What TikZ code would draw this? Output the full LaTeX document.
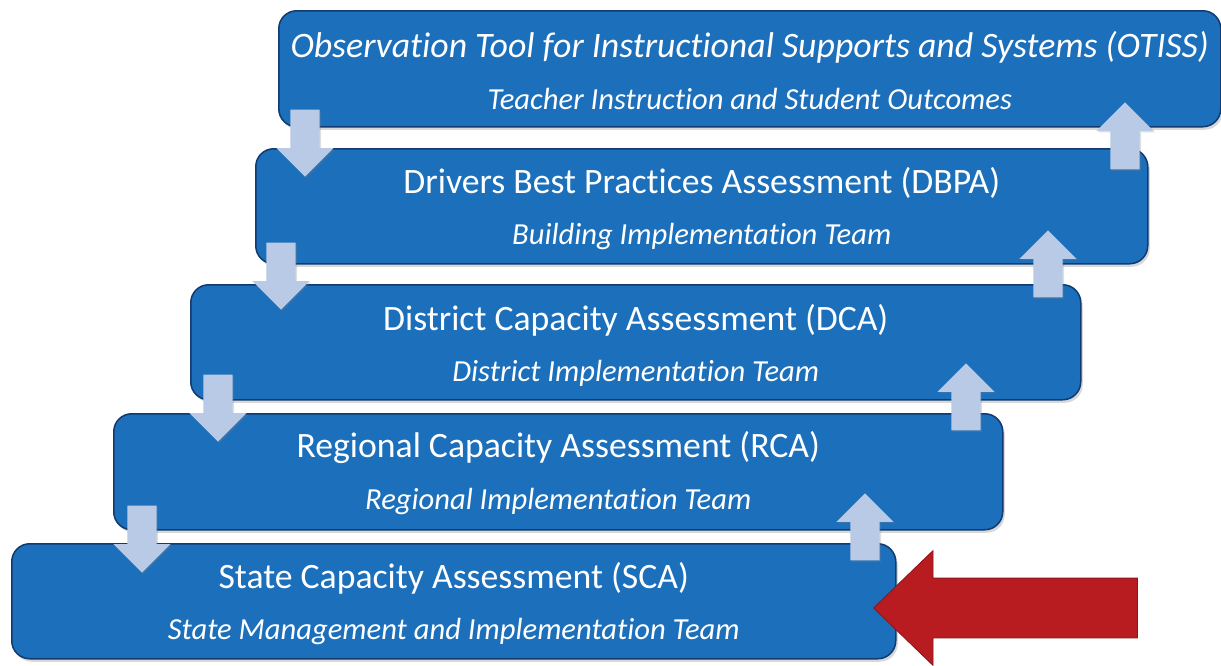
\documentclass[tikz,border=0pt]{standalone}
\usepackage{fontspec}
\setmainfont{Carlito}[Ligatures={NoCommon}]
\usetikzlibrary{shapes.arrows,shadows,calc}
\definecolor{boxblue}{RGB}{28,111,187}
\definecolor{boxedge}{RGB}{16,58,112}
\definecolor{arrowblue}{RGB}{184,202,229}
\definecolor{arrowred}{RGB}{184,28,33}
\begin{document}
\begin{tikzpicture}[x=1pt,y=-1pt,
  stage/.style={draw=boxedge, line width=1.5pt, fill=boxblue, rounded corners=18pt,
    inner sep=0pt, anchor=north west,
    drop shadow={shadow xshift=2pt, shadow yshift=-3pt, opacity=0.3}},
  titletext/.style={text=white, inner sep=0pt, font=\fontsize{35.7}{40}\selectfont},
  subtext/.style={text=white, inner sep=0pt, font=\itshape\fontsize{30.6}{36}\selectfont},
  toptext/.style={text=white, inner sep=0pt, font=\itshape\fontsize{35.8}{40}\selectfont},
  flowarrow/.style={single arrow, fill=arrowblue, draw=none, inner sep=14.5pt,
    minimum height=67pt, single arrow head extend=14pt,
    single arrow tip angle=90, anchor=tip,
    drop shadow={shadow xshift=1.5pt, shadow yshift=-1.5pt, opacity=0.25}},
  uparrow/.style={flowarrow, shape border rotate=90},
  downarrow/.style={flowarrow, shape border rotate=270},
]
\useasboundingbox (0,0) rectangle (1221,665);
\fill[white] (0,0) rectangle (1221,665);

% stages
\node[stage, minimum width=942pt, minimum height=116pt] (otiss) at (278,10) {};
\node[stage, minimum width=892pt, minimum height=115pt] (dbpa) at (255,148) {};
\node[stage, minimum width=890pt, minimum height=115pt] (dca) at (190,284) {};
\node[stage, minimum width=889pt, minimum height=116pt] (rca) at (113,413) {};
\node[stage, minimum width=884pt, minimum height=115pt] (sca) at (11,543) {};

% texts
\node[toptext] (otissT) at ($(otiss.north)+(0,37)$) {Observation Tool for Instructional Supports and Systems (OTISS)};
\node[subtext] (otissS) at ($(otiss.north)+(0,89)$) {Teacher Instruction and Student Outcomes};
\node[titletext] (dbpaT) at ($(dbpa.north)+(0,35)$) {Drivers Best Practices Assessment (DBPA)};
\node[subtext] (dbpaS) at ($(dbpa.north)+(0,88)$) {Building Implementation Team};
\node[titletext] (dcaT) at ($(dca.north)+(0,36)$) {District Capacity Assessment (DCA)};
\node[subtext] (dcaS) at ($(dca.north)+(0,89)$) {District Implementation Team};
\node[titletext] (rcaT) at ($(rca.north)+(0,35)$) {Regional Capacity Assessment (RCA)};
\node[subtext] (rcaS) at ($(rca.north)+(0,88)$) {Regional Implementation Team};
\node[titletext] (scaT) at ($(sca.north)+(0,35)$) {State Capacity Assessment (SCA)};
\node[subtext] (scaS) at ($(sca.north)+(0,88)$) {State Management and Implementation Team};

% down arrows (left side)
\node[downarrow] (d1) at (305,177) {};
\node[downarrow] (d2) at (281,310) {};
\node[downarrow] (d3) at (218,442) {};
\node[downarrow] (d4) at (142,573) {};

% up arrows (right side)
\node[uparrow] (u1) at (1125,102) {};
\node[uparrow] (u2) at (1048,230) {};
\node[uparrow] (u3) at (966,363) {};
\node[uparrow] (u4) at (865,493) {};

% red arrow
\node[single arrow, fill=arrowred, draw=arrowred!75!black, line width=0.8pt,
  shape border rotate=180, inner sep=29.5pt, minimum height=264pt,
  single arrow head extend=27.5pt, single arrow tip angle=88, anchor=tip] (red) at (873,608) {};
\end{tikzpicture}
\end{document}
